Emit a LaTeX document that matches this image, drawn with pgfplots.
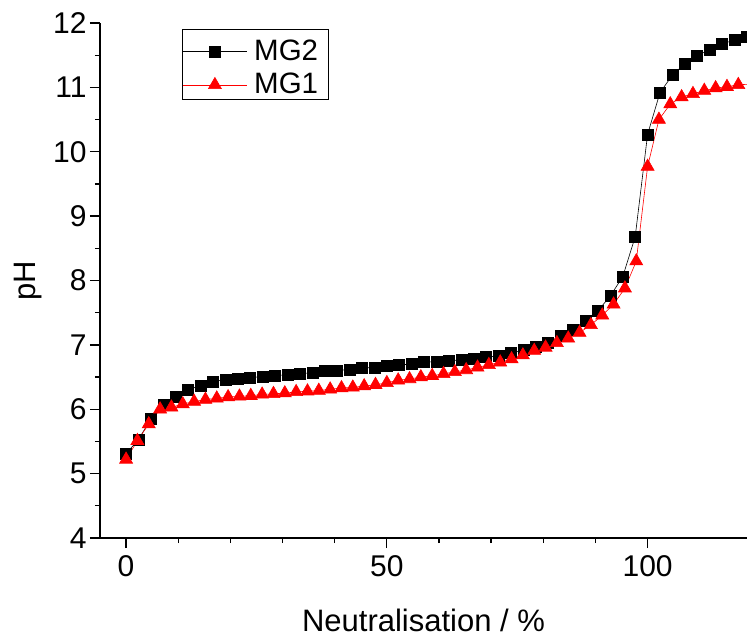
\documentclass[border=0pt]{standalone}
\usepackage{fontspec}
\setmainfont{Liberation Sans}
\usepackage{pgfplots}
\pgfplotsset{compat=1.18}

% MG2: pH against neutralisation (%)
\pgfplotstableread{
x y
0.000 5.31
2.381 5.53
4.762 5.85
7.143 6.07
9.524 6.20
11.905 6.30
14.286 6.37
16.667 6.43
19.048 6.46
21.429 6.47
23.810 6.49
26.190 6.51
28.571 6.52
30.952 6.54
33.333 6.55
35.714 6.57
38.095 6.59
40.476 6.60
42.857 6.62
45.238 6.64
47.619 6.65
50.000 6.68
52.381 6.69
54.762 6.70
57.143 6.73
59.524 6.74
61.905 6.75
64.286 6.77
66.667 6.79
69.048 6.81
71.429 6.83
73.810 6.87
76.190 6.92
78.571 6.97
80.952 7.04
83.333 7.14
85.714 7.24
88.095 7.38
90.476 7.53
92.857 7.76
95.238 8.06
97.619 8.68
100.000 10.27
102.381 10.92
104.762 11.19
107.143 11.37
109.524 11.49
111.905 11.59
114.286 11.67
116.667 11.74
119.048 11.79
}\mgtwo

% MG1
\pgfplotstableread{
x y
0.000 5.22
2.174 5.51
4.348 5.77
6.522 6.00
8.696 6.03
10.870 6.08
13.043 6.12
15.217 6.15
17.391 6.17
19.565 6.19
21.739 6.20
23.913 6.21
26.087 6.23
28.261 6.24
30.435 6.25
32.609 6.27
34.783 6.28
36.957 6.29
39.130 6.31
41.304 6.33
43.478 6.34
45.652 6.36
47.826 6.38
50.000 6.41
52.174 6.45
54.348 6.47
56.522 6.50
58.696 6.52
60.870 6.55
63.043 6.58
65.217 6.61
67.391 6.65
69.565 6.69
71.739 6.73
73.913 6.78
76.087 6.84
78.261 6.91
80.435 6.96
82.609 7.03
84.783 7.10
86.957 7.19
89.130 7.31
91.304 7.46
93.478 7.63
95.652 7.88
97.826 8.30
100.000 9.77
102.174 10.50
104.348 10.74
106.522 10.85
108.696 10.90
110.870 10.95
113.043 10.99
115.217 11.01
117.391 11.04
119.565 11.05
}\mgone

\begin{document}
\begin{tikzpicture}
\begin{axis}[
  scale only axis,
  width=647pt, height=515pt,
  xmin=-5, xmax=119.06,
  ymin=4, ymax=12,
  axis x line*=bottom, axis y line*=left,
  axis line style={line width=1.5pt, -},
  xtick={0,50,100}, minor x tick num=4,
  ytick={4,5,...,12}, minor y tick num=1,
  tick align=outside,
  major tick length=10pt, minor tick length=5pt,
  tick style={black, line width=1.3pt},
  /pgf/number format/assume math mode=true,
  ticklabel style={font=\fontsize{30}{34}\selectfont},
  xticklabel style={yshift=-4pt},
  label style={font=\fontsize{31}{36}\selectfont},
  xlabel={Neutralisation / \%},
  ylabel={pH},
  xlabel style={yshift=-25pt},
  ylabel style={yshift=4pt},
  legend style={at={(0.1263,0.9883)}, anchor=north west, draw=black,
    line width=0.8pt, font=\fontsize{29.5}{34}\selectfont,
    inner xsep=0.5pt, inner ysep=5pt, row sep=7.5pt,
    nodes={inner sep=0pt, text height=26pt, text depth=0pt},
    /tikz/every odd column/.append style={column sep=7pt}},
  legend cell align=left,
  legend image code/.code={
    \draw[mark repeat=2, mark phase=2, line width=0.6pt]
      plot coordinates {(0pt,-4pt) (32pt,-4pt) (64pt,-4pt)};},
]
\addplot[black, line width=0.6pt, mark=square*, mark size=5.5pt,
  mark options={solid, fill=black}] table[x=x, y=y] {\mgtwo};
\addlegendentry{MG2\hspace*{10pt}}
\addplot[red, line width=0.6pt, mark=triangle*, mark size=7.5pt,
  mark options={solid, fill=red}] table[x=x, y=y] {\mgone};
\addlegendentry{MG1\hspace*{10pt}}
\end{axis}
\pgfresetboundingbox
\path[use as bounding box] (-100pt,-99pt) rectangle (647pt,538pt);
\end{tikzpicture}
\end{document}
